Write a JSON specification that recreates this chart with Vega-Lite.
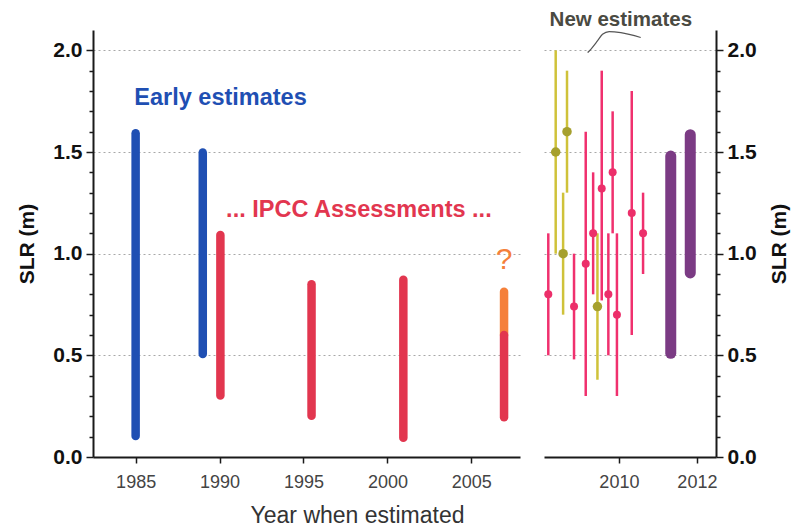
{
  "$schema": "https://vega.github.io/schema/vega-lite/v6.json",
  "padding": {"left": 16, "top": 9, "right": 2, "bottom": 2},
  "background": "white",
  "config": {
    "view": {"stroke": null},
    "font": "Liberation Sans",
    "axis": {
      "domainColor": "#1a1a1a", "domainWidth": 2,
      "tickColor": "#1a1a1a", "tickWidth": 1.5,
      "labelFont": "Liberation Sans", "titleFont": "Liberation Sans",
      "labelOverlap": false
    }
  },
  "resolve": {"scale": {"color": "independent", "fill": "independent", "size": "independent"}},
  "spacing": 24,
  "hconcat": [
    {
      "width": 427,
      "height": 427,
      "layer": [
        {
          "data": {"values": [
            {"year": 1985, "low": 0.103, "high": 1.592, "grp": "early"},
            {"year": 1989, "low": 0.507, "high": 1.497, "grp": "early"},
            {"year": 1990.05, "low": 0.303, "high": 1.092, "grp": "ipcc"},
            {"year": 1995.48, "low": 0.203, "high": 0.85, "grp": "ipcc"},
            {"year": 2000.95, "low": 0.095, "high": 0.872, "grp": "ipcc"},
            {"year": 2006.95, "low": 0.6, "high": 0.813, "grp": "ipcc-upper"},
            {"year": 2006.95, "low": 0.195, "high": 0.6, "grp": "ipcc"}
          ]},
          "mark": {"type": "rule", "strokeWidth": 8.5, "strokeCap": "round"},
          "encoding": {
            "x": {"field": "year", "type": "quantitative",
              "scale": {"domain": [1982.46, 2007.9], "nice": false, "zero": false},
              "axis": {"values": [1985, 1990, 1995, 2000, 2005], "format": "d", "grid": false,
                "tickSize": 6, "labelFontSize": 18, "labelColor": "#444", "labelPadding": 10,
                "title": "Year when estimated", "titleFontSize": 23, "titleFontWeight": "normal",
                "titleColor": "#333", "titleX": 264, "titlePadding": 13}},
            "y": {"field": "low", "type": "quantitative",
              "scale": {"domain": [0, 2.1], "nice": false},
              "axis": {"tickCount": 21,
                "labelExpr": "abs(datum.value*2 - round(datum.value*2)) < 0.001 ? format(datum.value, '.1f') : ''",
                "tickSize": 7,
                "tickDash": {"condition": {"test": "abs(datum.value*2 - round(datum.value*2)) < 0.001", "value": []}, "value": [4, 20]},
                "tickOpacity": {"condition": {"test": "datum.value > 2.05", "value": 0}, "value": 1},
                "grid": true,
                "gridOpacity": {"condition": {"test": "abs(datum.value*2 - round(datum.value*2)) < 0.001 && datum.value > 0", "value": 1}, "value": 0},
                "gridColor": "#a8a8a8", "gridDash": [2, 3], "gridWidth": 1,
                "labelFontSize": 21, "labelFontWeight": "bold", "labelColor": "#111", "labelPadding": 4,
                "title": "SLR (m)", "titleFontSize": 21, "titleFontWeight": "bold", "titleColor": "#111", "titlePadding": 15}},
            "y2": {"field": "high"},
            "color": {"field": "grp", "type": "nominal", "legend": null,
              "scale": {"domain": ["early", "ipcc", "ipcc-upper"], "range": ["#1f4fb3", "#e2364f", "#f5803a"]}}
          }
        },
        {
          "data": {"values": [
            {"tx": 1984.92, "ty": 1.767, "label": "Early estimates", "grp": "early"},
            {"tx": 1990.39, "ty": 1.213, "label": "... IPCC Assessments ...", "grp": "ipcc"}
          ]},
          "mark": {"type": "text", "align": "left", "baseline": "middle", "fontSize": 23.5, "fontWeight": "bold"},
          "encoding": {
            "x": {"field": "tx", "type": "quantitative"},
            "y": {"field": "ty", "type": "quantitative"},
            "text": {"field": "label"},
            "color": {"field": "grp", "type": "nominal", "legend": null}
          }
        },
        {
          "data": {"values": [
            {"tx": 2006.95, "ty": 0.967, "label": "?", "grp": "ipcc-upper"}
          ]},
          "mark": {"type": "text", "align": "center", "baseline": "middle", "fontSize": 30},
          "encoding": {
            "x": {"field": "tx", "type": "quantitative"},
            "y": {"field": "ty", "type": "quantitative"},
            "text": {"field": "label"},
            "color": {"field": "grp", "type": "nominal", "legend": null}
          }
        }
      ]
    },
    {
      "width": 172,
      "height": 427,
      "layer": [
        {
          "data": {"values": [
            {"year": 2011.33, "low": 0.51, "high": 1.48},
            {"year": 2011.83, "low": 0.905, "high": 1.585}
          ]},
          "mark": {"type": "rule", "strokeWidth": 11, "strokeCap": "round", "color": "#7b3b84"},
          "encoding": {
            "x": {"field": "year", "type": "quantitative",
              "scale": {"domain": [2008.08, 2012.49], "nice": false, "zero": false},
              "axis": {"values": [2010, 2012], "format": "d", "grid": false,
                "tickSize": 6, "labelFontSize": 18, "labelColor": "#444", "labelPadding": 10, "title": null}},
            "y": {"field": "low", "type": "quantitative",
              "scale": {"domain": [0, 2.1], "nice": false},
              "axis": {"orient": "right", "tickCount": 21,
                "labelExpr": "abs(datum.value*2 - round(datum.value*2)) < 0.001 ? format(datum.value, '.1f') : ''",
                "tickSize": 7,
                "tickDash": {"condition": {"test": "abs(datum.value*2 - round(datum.value*2)) < 0.001", "value": []}, "value": [4, 20]},
                "tickOpacity": {"condition": {"test": "datum.value > 2.05", "value": 0}, "value": 1},
                "grid": true,
                "gridOpacity": {"condition": {"test": "abs(datum.value*2 - round(datum.value*2)) < 0.001 && datum.value > 0", "value": 1}, "value": 0},
                "gridColor": "#a8a8a8", "gridDash": [2, 3], "gridWidth": 1,
                "labelFontSize": 21, "labelFontWeight": "bold", "labelColor": "#111", "labelPadding": 4,
                "title": "SLR (m)", "titleAngle": 270, "titleBaseline": "top", "titleFontSize": 21, "titleFontWeight": "bold", "titleColor": "#111", "titlePadding": 12}},
            "y2": {"field": "high"}
          }
        },
        {
          "data": {"values": [
            {"year": 2008.19, "mid": 0.8, "low": 0.5, "high": 1.1, "src": "pink"},
            {"year": 2008.85, "mid": 0.74, "low": 0.48, "high": 1.0, "src": "pink"},
            {"year": 2009.15, "mid": 0.95, "low": 0.3, "high": 1.6, "src": "pink"},
            {"year": 2009.34, "mid": 1.1, "low": 0.8, "high": 1.4, "src": "pink"},
            {"year": 2009.56, "mid": 1.32, "low": 0.77, "high": 1.9, "src": "pink"},
            {"year": 2009.73, "mid": 0.8, "low": 0.5, "high": 1.1, "src": "pink"},
            {"year": 2009.84, "mid": 1.4, "low": 1.1, "high": 1.7, "src": "pink"},
            {"year": 2009.95, "mid": 0.7, "low": 0.3, "high": 1.1, "src": "pink"},
            {"year": 2010.33, "mid": 1.2, "low": 0.6, "high": 1.8, "src": "pink"},
            {"year": 2010.62, "mid": 1.1, "low": 0.9, "high": 1.3, "src": "pink"},
            {"year": 2008.38, "mid": 1.5, "low": 1.0, "high": 2.0, "src": "olive"},
            {"year": 2008.57, "mid": 1.0, "low": 0.7, "high": 1.3, "src": "olive"},
            {"year": 2008.67, "mid": 1.6, "low": 1.3, "high": 1.9, "src": "olive"},
            {"year": 2009.45, "mid": 0.74, "low": 0.38, "high": 1.1, "src": "olive"}
          ]},
          "layer": [
            {
              "mark": {"type": "rule", "strokeWidth": 2.5},
              "encoding": {
                "x": {"field": "year", "type": "quantitative"},
                "y": {"field": "low", "type": "quantitative"},
                "y2": {"field": "high"},
                "color": {"field": "src", "type": "nominal", "legend": null,
                  "scale": {"domain": ["pink", "olive"], "range": ["#f0306e", "#cfc23a"]}}
              }
            },
            {
              "mark": {"type": "point", "filled": true, "opacity": 1},
              "encoding": {
                "x": {"field": "year", "type": "quantitative"},
                "y": {"field": "mid", "type": "quantitative"},
                "fill": {"field": "src", "type": "nominal", "legend": null,
                  "scale": {"domain": ["pink", "olive"], "range": ["#ec2f6a", "#a6a02e"]}},
                "size": {"field": "src", "type": "nominal", "legend": null,
                  "scale": {"domain": ["pink", "olive"], "range": [64, 90]}}
              }
            }
          ]
        },
        {
          "data": {"values": [
            {"sx": 2009.2, "sy": 1.989, "k": 1},
            {"sx": 2009.28, "sy": 2.005, "k": 2},
            {"sx": 2009.45, "sy": 2.046, "k": 3},
            {"sx": 2009.58, "sy": 2.079, "k": 4},
            {"sx": 2009.75, "sy": 2.092, "k": 5},
            {"sx": 2010.05, "sy": 2.087, "k": 6},
            {"sx": 2010.56, "sy": 2.063, "k": 7}
          ]},
          "mark": {"type": "line", "color": "#555", "strokeWidth": 1.2, "interpolate": "monotone"},
          "encoding": {
            "x": {"field": "sx", "type": "quantitative"},
            "y": {"field": "sy", "type": "quantitative"},
            "order": {"field": "k"}
          }
        },
        {
          "data": {"values": [{"tx": 2010.05, "ty": 2.15, "label": "New estimates"}]},
          "mark": {"type": "text", "align": "center", "baseline": "middle", "fontSize": 20.5, "fontWeight": "bold", "color": "#4a4a42"},
          "encoding": {
            "x": {"field": "tx", "type": "quantitative"},
            "y": {"field": "ty", "type": "quantitative"},
            "text": {"field": "label"}
          }
        }
      ]
    }
  ]
}
